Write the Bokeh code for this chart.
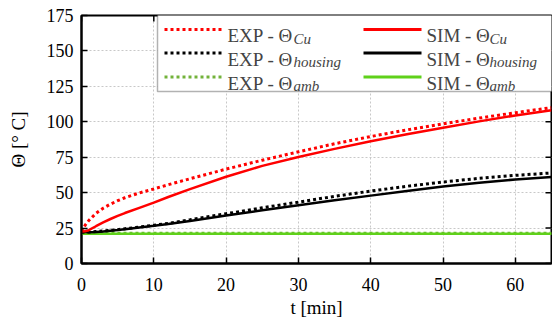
from bokeh.plotting import figure
from bokeh.models import Range1d, Label, Arrow, BoxAnnotation, FixedTicker
from bokeh.embed import file_html
from bokeh.resources import INLINE

# ---- data ----
t_min = [0, 0.5, 1, 2, 3, 4, 5, 6, 8, 10, 12, 15, 20, 25, 30, 35, 40, 45, 50, 55, 60, 65]
exp_cu = [22.5, 27.0, 30.3, 35.4, 39.0, 41.9, 44.3, 46.4, 49.8, 52.6, 55.6, 59.8, 66.6, 72.9, 78.8, 84.5, 89.6, 94.3, 98.6, 102.6, 106.4, 110.0]
sim_cu = [22.5, 22.8, 23.5, 26.3, 29.0, 31.4, 33.6, 35.6, 39.3, 43.0, 46.9, 52.5, 61.2, 68.9, 75.2, 80.9, 86.3, 91.2, 95.8, 100.3, 104.5, 108.2]
exp_housing = [22.0, 22.0, 22.2, 22.6, 23.0, 23.4, 23.9, 24.5, 25.7, 27.0, 28.3, 30.8, 35.1, 39.3, 43.3, 47.4, 51.1, 54.5, 57.5, 60.1, 62.2, 63.9]
sim_housing = [22.5, 22.2, 22.0, 22.2, 22.6, 23.1, 23.6, 24.2, 25.4, 26.6, 27.9, 30.0, 33.8, 37.5, 41.1, 44.6, 47.9, 51.2, 54.3, 57.0, 59.3, 61.0]
exp_amb = [21.3, 21.3, 21.3, 21.4, 21.3, 21.3, 21.4, 21.3, 21.3, 21.4, 21.3, 21.3, 21.4, 21.3, 21.3, 21.4, 21.3, 21.3, 21.4, 21.3, 21.3, 21.3]
sim_amb = [21.0] * len(t_min)

x_ticks = [0, 10, 20, 30, 40, 50, 60]
y_ticks = [0, 25, 50, 75, 100, 125, 150, 175]
X_MAX, Y_MAX = 65, 175

RED = "#ff0000"
BLACK = "#000000"
GREEN_SIM = "#5fd11a"
GREEN_EXP = "#72b23a"
FONT = "Liberation Serif"

p = figure(width=552, height=320, output_backend="svg", toolbar_location=None,
           x_range=Range1d(0, X_MAX), y_range=Range1d(0, Y_MAX),
           min_border_left=81, min_border_right=1, min_border_top=15, min_border_bottom=57,
           background_fill_color="white", border_fill_color="white")
p.outline_line_color = BLACK
p.outline_line_width = 2

p.xaxis.ticker = FixedTicker(ticks=x_ticks)
p.yaxis.ticker = FixedTicker(ticks=y_ticks)

for ax in p.axis:
    ax.axis_line_width = 2
    ax.axis_line_color = BLACK
    ax.major_tick_in = 6
    ax.major_tick_out = 0
    ax.major_tick_line_width = 1.5
    ax.major_tick_line_color = BLACK
    ax.minor_tick_line_color = None
    ax.major_label_text_font = FONT
    ax.major_label_text_font_size = "18px"
    ax.major_label_text_color = BLACK
    ax.axis_label_text_font = FONT
    ax.axis_label_text_font_style = "normal"
    ax.axis_label_text_font_size = "19px"
    ax.axis_label_text_color = BLACK
p.xaxis.major_label_standoff = 14
p.yaxis.major_label_standoff = 8

p.yaxis.axis_label = "Θ [° C]"
p.yaxis.axis_label_standoff = 15
p.xaxis.axis_label = "t [min]"
p.xaxis.axis_label_standoff = 3

for g in (p.xgrid, p.ygrid):
    g.grid_line_color = "#c8c8c8"
    g.grid_line_dash = "2 2"
    g.grid_line_width = 1
p.xgrid.ticker = FixedTicker(ticks=x_ticks)
p.ygrid.ticker = FixedTicker(ticks=y_ticks)

# inward ticks on the top and right edges of the frame
tick_dx = 6 / 7.246   # 6 px in minutes
tick_dy = 6 / 1.417   # 6 px in degrees
p.segment(x0=x_ticks, y0=[Y_MAX] * len(x_ticks), x1=x_ticks, y1=[Y_MAX - tick_dy] * len(x_ticks),
          line_color=BLACK, line_width=1.5)
p.segment(x0=[X_MAX] * len(y_ticks), y0=y_ticks, x1=[X_MAX - tick_dx] * len(y_ticks), y1=y_ticks,
          line_color=BLACK, line_width=1.5)

DOT = "3 3"
p.line(t_min, exp_amb, line_color=GREEN_EXP, line_width=3, line_dash=DOT, line_cap="butt")
p.line(t_min, sim_amb, line_color=GREEN_SIM, line_width=2.5)
p.line(t_min, exp_housing, line_color=BLACK, line_width=3, line_dash=DOT, line_cap="butt")
p.line(t_min, sim_housing, line_color=BLACK, line_width=2.5)
p.line(t_min, exp_cu, line_color=RED, line_width=3, line_dash=DOT, line_cap="butt")
p.line(t_min, sim_cu, line_color=RED, line_width=2.5)

# ---- custom legend (frame-relative screen units) ----
p.add_layout(BoxAnnotation(left=76, right=475, bottom=172, top=252,
                           left_units="screen", right_units="screen",
                           bottom_units="screen", top_units="screen",
                           fill_color="white", fill_alpha=1.0,
                           line_color=BLACK, line_width=1.5, level="annotation"))

rows = [
    (RED, RED, "Cu"),
    (BLACK, BLACK, "housing"),
    (GREEN_EXP, GREEN_SIM, "amb"),
]
row_line_y = [234, 210.5, 186.5]
row_base_y = [228, 204.5, 180.5]
for (c_exp, c_sim, sub), ly, by in zip(rows, row_line_y, row_base_y):
    p.add_layout(Arrow(end=None, x_start=83, y_start=ly, x_end=141, y_end=ly,
                       start_units="screen", end_units="screen",
                       line_color=c_exp, line_width=3, line_dash=DOT, line_cap="butt"))
    p.add_layout(Arrow(end=None, x_start=282, y_start=ly, x_end=340, y_end=ly,
                       start_units="screen", end_units="screen",
                       line_color=c_sim, line_width=3))
    p.add_layout(Label(x=146, y=by, x_units="screen", y_units="screen", text="EXP - Θ",
                       text_font=FONT, text_font_size="19px", text_baseline="alphabetic"))
    p.add_layout(Label(x=212, y=by - 3, x_units="screen", y_units="screen", text=sub,
                       text_font=FONT, text_font_style="italic", text_font_size="15px",
                       text_baseline="alphabetic"))
    p.add_layout(Label(x=345, y=by, x_units="screen", y_units="screen", text="SIM - Θ",
                       text_font=FONT, text_font_size="19px", text_baseline="alphabetic"))
    p.add_layout(Label(x=408, y=by - 3, x_units="screen", y_units="screen", text=sub,
                       text_font=FONT, text_font_style="italic", text_font_size="15px",
                       text_baseline="alphabetic"))

open("out.html", "w").write(file_html(p, INLINE))
